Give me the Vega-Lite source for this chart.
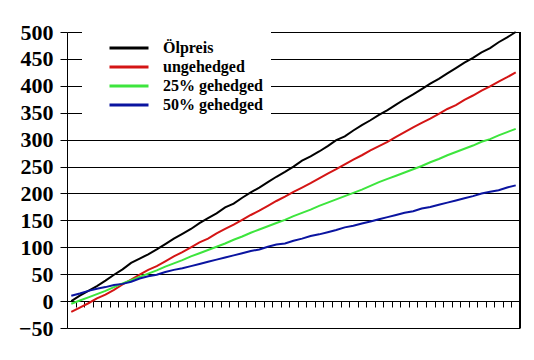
{
  "$schema": "https://vega.github.io/schema/vega-lite/v6.json",
  "width": 453,
  "height": 296,
  "autosize": {"type": "none"},
  "padding": {"left": 67, "top": 32, "right": 14, "bottom": 32},
  "background": "white",
  "config": {"view": {"stroke": null}, "font": "Liberation Serif"},
  "data": {"values": [
    {"t":0,"Ölpreis":0,"ungehedged":-20,"25% gehedged":-5,"50% gehedged":10},
    {"t":1,"Ölpreis":10,"ungehedged":-12,"25% gehedged":1,"50% gehedged":14},
    {"t":2,"Ölpreis":19,"ungehedged":-4,"25% gehedged":7,"50% gehedged":19},
    {"t":3,"Ölpreis":28,"ungehedged":5,"25% gehedged":13,"50% gehedged":23},
    {"t":4,"Ölpreis":38,"ungehedged":12,"25% gehedged":19,"50% gehedged":26},
    {"t":5,"Ölpreis":49,"ungehedged":21,"25% gehedged":26,"50% gehedged":30},
    {"t":6,"Ölpreis":59,"ungehedged":31,"25% gehedged":33,"50% gehedged":32},
    {"t":7,"Ölpreis":71,"ungehedged":40,"25% gehedged":39,"50% gehedged":36},
    {"t":8,"Ölpreis":79,"ungehedged":49,"25% gehedged":45,"50% gehedged":42},
    {"t":9,"Ölpreis":87,"ungehedged":58,"25% gehedged":51,"50% gehedged":46},
    {"t":10,"Ölpreis":96,"ungehedged":65,"25% gehedged":57,"50% gehedged":49},
    {"t":11,"Ölpreis":106,"ungehedged":74,"25% gehedged":64,"50% gehedged":54},
    {"t":12,"Ölpreis":116,"ungehedged":83,"25% gehedged":70,"50% gehedged":58},
    {"t":13,"Ölpreis":125,"ungehedged":91,"25% gehedged":76,"50% gehedged":61},
    {"t":14,"Ölpreis":134,"ungehedged":100,"25% gehedged":83,"50% gehedged":65},
    {"t":15,"Ölpreis":145,"ungehedged":109,"25% gehedged":89,"50% gehedged":69},
    {"t":16,"Ölpreis":154,"ungehedged":116,"25% gehedged":95,"50% gehedged":73},
    {"t":17,"Ölpreis":163,"ungehedged":126,"25% gehedged":101,"50% gehedged":77},
    {"t":18,"Ölpreis":174,"ungehedged":134,"25% gehedged":107,"50% gehedged":81},
    {"t":19,"Ölpreis":181,"ungehedged":142,"25% gehedged":114,"50% gehedged":85},
    {"t":20,"Ölpreis":192,"ungehedged":151,"25% gehedged":120,"50% gehedged":89},
    {"t":21,"Ölpreis":202,"ungehedged":160,"25% gehedged":127,"50% gehedged":93},
    {"t":22,"Ölpreis":211,"ungehedged":168,"25% gehedged":133,"50% gehedged":96},
    {"t":23,"Ölpreis":221,"ungehedged":177,"25% gehedged":139,"50% gehedged":101},
    {"t":24,"Ölpreis":231,"ungehedged":186,"25% gehedged":145,"50% gehedged":105},
    {"t":25,"Ölpreis":240,"ungehedged":194,"25% gehedged":151,"50% gehedged":107},
    {"t":26,"Ölpreis":250,"ungehedged":203,"25% gehedged":158,"50% gehedged":112},
    {"t":27,"Ölpreis":261,"ungehedged":211,"25% gehedged":164,"50% gehedged":116},
    {"t":28,"Ölpreis":269,"ungehedged":219,"25% gehedged":170,"50% gehedged":121},
    {"t":29,"Ölpreis":278,"ungehedged":228,"25% gehedged":177,"50% gehedged":124},
    {"t":30,"Ölpreis":288,"ungehedged":237,"25% gehedged":183,"50% gehedged":128},
    {"t":31,"Ölpreis":299,"ungehedged":245,"25% gehedged":189,"50% gehedged":132},
    {"t":32,"Ölpreis":306,"ungehedged":254,"25% gehedged":195,"50% gehedged":137},
    {"t":33,"Ölpreis":317,"ungehedged":263,"25% gehedged":201,"50% gehedged":140},
    {"t":34,"Ölpreis":327,"ungehedged":271,"25% gehedged":207,"50% gehedged":144},
    {"t":35,"Ölpreis":336,"ungehedged":280,"25% gehedged":214,"50% gehedged":148},
    {"t":36,"Ölpreis":346,"ungehedged":288,"25% gehedged":221,"50% gehedged":152},
    {"t":37,"Ölpreis":355,"ungehedged":296,"25% gehedged":227,"50% gehedged":156},
    {"t":38,"Ölpreis":365,"ungehedged":305,"25% gehedged":233,"50% gehedged":160},
    {"t":39,"Ölpreis":375,"ungehedged":314,"25% gehedged":239,"50% gehedged":164},
    {"t":40,"Ölpreis":384,"ungehedged":323,"25% gehedged":245,"50% gehedged":167},
    {"t":41,"Ölpreis":394,"ungehedged":331,"25% gehedged":251,"50% gehedged":172},
    {"t":42,"Ölpreis":404,"ungehedged":339,"25% gehedged":258,"50% gehedged":175},
    {"t":43,"Ölpreis":413,"ungehedged":348,"25% gehedged":264,"50% gehedged":179},
    {"t":44,"Ölpreis":423,"ungehedged":357,"25% gehedged":271,"50% gehedged":183},
    {"t":45,"Ölpreis":433,"ungehedged":364,"25% gehedged":277,"50% gehedged":187},
    {"t":46,"Ölpreis":443,"ungehedged":374,"25% gehedged":283,"50% gehedged":191},
    {"t":47,"Ölpreis":452,"ungehedged":382,"25% gehedged":289,"50% gehedged":195},
    {"t":48,"Ölpreis":462,"ungehedged":391,"25% gehedged":296,"50% gehedged":200},
    {"t":49,"Ölpreis":470,"ungehedged":399,"25% gehedged":301,"50% gehedged":203},
    {"t":50,"Ölpreis":481,"ungehedged":408,"25% gehedged":308,"50% gehedged":206},
    {"t":51,"Ölpreis":490,"ungehedged":416,"25% gehedged":314,"50% gehedged":211},
    {"t":52,"Ölpreis":500,"ungehedged":425,"25% gehedged":320,"50% gehedged":215}
  ]},
  "layer": [
    {
      "transform": [{"fold": ["Ölpreis", "ungehedged", "25% gehedged", "50% gehedged"], "as": ["serie", "wert"]}],
      "mark": {"type": "line", "strokeWidth": 2},
      "encoding": {
        "x": {
          "field": "t", "type": "quantitative",
          "scale": {"domain": [-0.5, 52.5], "nice": false, "zero": false},
          "axis": {
            "values": [0.5,1.5,2.5,3.5,4.5,5.5,6.5,7.5,8.5,9.5,10.5,11.5,12.5,13.5,14.5,15.5,16.5,17.5,18.5,19.5,20.5,21.5,22.5,23.5,24.5,25.5,26.5,27.5,28.5,29.5,30.5,31.5,32.5,33.5,34.5,35.5,36.5,37.5,38.5,39.5,40.5,41.5,42.5,43.5,44.5,45.5,46.5,47.5,48.5,49.5,50.5,51.5],
            "tickCount": 200,
            "labels": false, "domain": false, "grid": false, "ticks": true,
            "tickSize": 6, "tickColor": "black", "tickWidth": 1, "offset": -27, "title": null
          }
        },
        "y": {
          "field": "wert", "type": "quantitative",
          "scale": {"domain": [-50, 500], "nice": false, "zero": false},
          "axis": {
            "values": [-50, 0, 50, 100, 150, 200, 250, 300, 350, 400, 450, 500],
            "tickCount": 100, "labelOverlap": false,
            "title": null, "grid": true, "gridColor": "black", "gridOpacity": 1, "gridWidth": 1,
            "domainColor": "black", "domainWidth": 1, "tickColor": "black", "tickSize": 7,
            "labelFont": "Liberation Serif", "labelFontWeight": "bold", "labelFontSize": 22,
            "labelColor": "black", "labelPadding": 7
          }
        },
        "color": {
          "field": "serie", "type": "nominal",
          "scale": {"domain": ["Ölpreis", "ungehedged", "25% gehedged", "50% gehedged"], "range": ["#000000", "#d41515", "#3de53d", "#0a14a0"]},
          "legend": {
            "title": null, "orient": "none", "legendX": 15, "legendY": -1,
            "fillColor": "white", "padding": 8,
            "symbolType": "M-2.6,0H2.6", "symbolSize": 225, "symbolStrokeWidth": 3, "symbolOffset": 30,
            "labelFont": "Liberation Serif", "labelFontSize": 16, "labelFontWeight": "bold",
            "labelColor": "black", "labelOffset": 25, "rowPadding": 2
          }
        }
      }
    },
    {
      "mark": {"type": "rule", "color": "black", "strokeWidth": 1},
      "encoding": {"x": {"datum": 52.5}, "y": {"datum": -50}, "y2": {"datum": 500}}
    }
  ]
}
